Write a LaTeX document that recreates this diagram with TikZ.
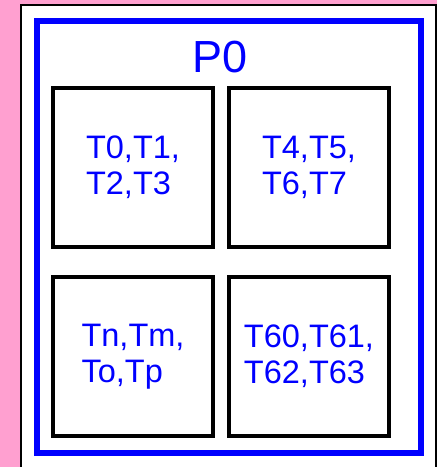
\documentclass[tikz,border=0pt]{standalone}
\usepackage{fontspec}
\setmainfont{Liberation Sans}
\definecolor{bgpink}{RGB}{255,160,208}
\definecolor{procblue}{RGB}{0,0,255}
\begin{document}
\begin{tikzpicture}[x=1pt,y=-1pt,
  procframe/.style={draw=procblue,line width=6pt},
  threadbox/.style={draw=black,line width=4pt,minimum width=160pt,minimum height=159pt,inner sep=0pt},
  threadtext/.style={text=procblue,align=left,font=\fontsize{32.5}{36}\selectfont},
  proclabel/.style={text=procblue,font=\fontsize{45}{50}\selectfont,anchor=base}]
  % page and background
  \useasboundingbox (0,0) rectangle (437,467);
  \fill[bgpink] (0,0) rectangle (437,467);
  \draw[fill=white,line width=2pt] (21,5) rectangle (436,475);
  % process frame
  \draw[procframe] (37,21) rectangle (421,452.5);
  \node[proclabel] (p0) at (220,72) {P0};
  % thread groups
  \node[threadbox] (b1) at (133,167.5) {};
  \node[threadbox] (b2) at (309,167.5) {};
  \node[threadbox] (b3) at (133,356.5) {};
  \node[threadbox] (b4) at (309,356.5) {};
  \node[threadtext] (t1) at (b1.center) {T0,T1,\\T2,T3};
  \node[threadtext] (t2) at (b2.center) {T4,T5,\\T6,T7};
  \node[threadtext] (t3) at (b3.center) {Tn,Tm,\\To,Tp};
  \node[threadtext] (t4) at (b4.center) {T60,T61,\\T62,T63};
\end{tikzpicture}
\end{document}
